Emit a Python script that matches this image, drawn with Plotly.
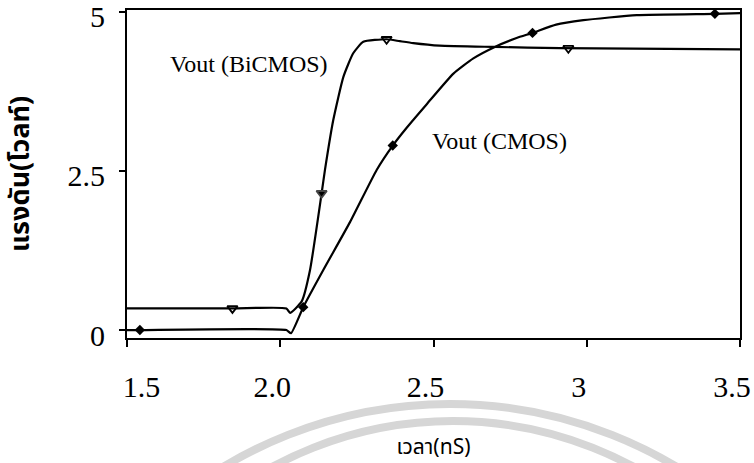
import plotly.graph_objects as go

# ---- data ----
cmos_t = [1.50, 1.542, 2.02, 2.035, 2.075, 2.14, 2.228, 2.315, 2.367, 2.4125, 2.478,
          2.565, 2.63, 2.70, 2.771, 2.823, 2.90, 2.989, 3.163, 3.418, 3.50]
cmos_v = [0.00, 0.00, 0.00, -0.05, 0.36, 0.94, 1.70, 2.52, 2.90, 3.18, 3.55,
          4.03, 4.27, 4.45, 4.59, 4.67, 4.80, 4.87, 4.95, 4.97, 4.98]
cmos_mark_t = [1.542, 2.075, 2.367, 2.823, 3.418]
cmos_mark_v = [0.00, 0.36, 2.90, 4.67, 4.97]

bicmos_t = [1.50, 1.844, 2.02, 2.032, 2.07, 2.097, 2.135, 2.146, 2.173, 2.206, 2.238,
            2.271, 2.347, 2.39, 2.434, 2.52, 2.694, 2.913, 3.50]
bicmos_v = [0.34, 0.34, 0.34, 0.27, 0.45, 0.94, 2.15, 2.52, 3.30, 3.98, 4.35,
            4.53, 4.57, 4.54, 4.51, 4.47, 4.45, 4.43, 4.41]
bicmos_mark_t = [1.844, 2.135, 2.347, 2.94]
bicmos_mark_v = [0.34, 2.15, 4.57, 4.43]

x_ticks = [1.5, 2.0, 2.5, 3.0, 3.5]
x_ticktext = ["\u00a0" * 6 + "1.5", "2.0", "2.5", "3", "3.5"]
y_ticks = [0, 2.5, 5]
y_ticktext = ["0", "2.5", "5"]

# ---- figure ----
W, H = 754, 463
L, R, T, B = 127, 14, 10, 125
PW, PH = W - L - R, H - T - B

serif = "Liberation Serif, Times New Roman, serif"
thai = "Noto Sans Thai, Loma, Garuda, Tahoma, DejaVu Sans, sans-serif"

fig = go.Figure()
fig.add_trace(go.Scatter(x=cmos_t, y=cmos_v, mode="lines",
                         line=dict(color="black", width=2.2, shape="spline", smoothing=0.5),
                         showlegend=False, hoverinfo="skip"))
fig.add_trace(go.Scatter(x=bicmos_t, y=bicmos_v, mode="lines",
                         line=dict(color="black", width=2.2, shape="spline", smoothing=0.5),
                         showlegend=False, hoverinfo="skip"))
fig.add_trace(go.Scatter(x=cmos_mark_t, y=cmos_mark_v, mode="markers",
                         marker=dict(symbol="diamond", size=8, color="black"),
                         showlegend=False))
fig.add_trace(go.Scatter(x=bicmos_mark_t, y=bicmos_mark_v, mode="markers",
                         marker=dict(symbol=["triangle-down-open", "triangle-down",
                                             "triangle-down-open", "triangle-down-open"],
                                     size=9, color="black", line=dict(width=1.8)),
                         showlegend=False))

fig.add_annotation(x=1.898, y=4.18, text="Vout (BiCMOS)", showarrow=False,
                   font=dict(family=serif, size=24, color="black"))
fig.add_annotation(x=2.714, y=2.97, text="Vout (CMOS)", showarrow=False,
                   font=dict(family=serif, size=24, color="black"))


def px_to_paper(px, py):
    return (px - L) / PW, (H - B - py) / PH


# faint circular watermark arcs below the axis
for cx, cy, r in [(450, 844, 440), (453, 800, 379)]:
    x0, y0 = px_to_paper(cx - r, cy + r)
    x1, y1 = px_to_paper(cx + r, cy - r)
    fig.add_shape(type="circle", xref="paper", yref="paper", x0=x0, y0=y0, x1=x1, y1=y1,
                  line=dict(color="#d6d6d6", width=8), layer="below")

fig.update_layout(
    width=W, height=H,
    margin=dict(l=L, r=R, t=T, b=B, autoexpand=False),
    paper_bgcolor="white", plot_bgcolor="white",
    xaxis=dict(range=[1.5, 3.5], tickvals=x_ticks, ticktext=x_ticktext,
               showgrid=False, zeroline=False, showline=True, mirror=True,
               linecolor="black", linewidth=2, ticks="outside", ticklen=7,
               tickwidth=2, tickcolor="black", ticklabelstandoff=14,
               ticklabeloverflow="allow", ticklabelshift=-8,
               tickfont=dict(family=serif, size=30, color="black"),
               title=dict(text="เวลา(nS)", standoff=50,
                          font=dict(family=thai, size=21, color="black"))),
    yaxis=dict(range=[-0.125, 5.03], tickvals=y_ticks, ticktext=y_ticktext,
               showgrid=False, zeroline=False, showline=True, mirror=True,
               linecolor="black", linewidth=2, ticks="outside", ticklen=6,
               tickwidth=2, tickcolor="black", ticklabelstandoff=8,
               ticklabeloverflow="allow", ticklabelshift=5,
               tickfont=dict(family=serif, size=30, color="black"),
               title=dict(text="<b>แรงดัน(โวลท์)</b>", standoff=30,
                          font=dict(family=thai, size=27, color="black"))),
)

fig.write_html("out.html")
